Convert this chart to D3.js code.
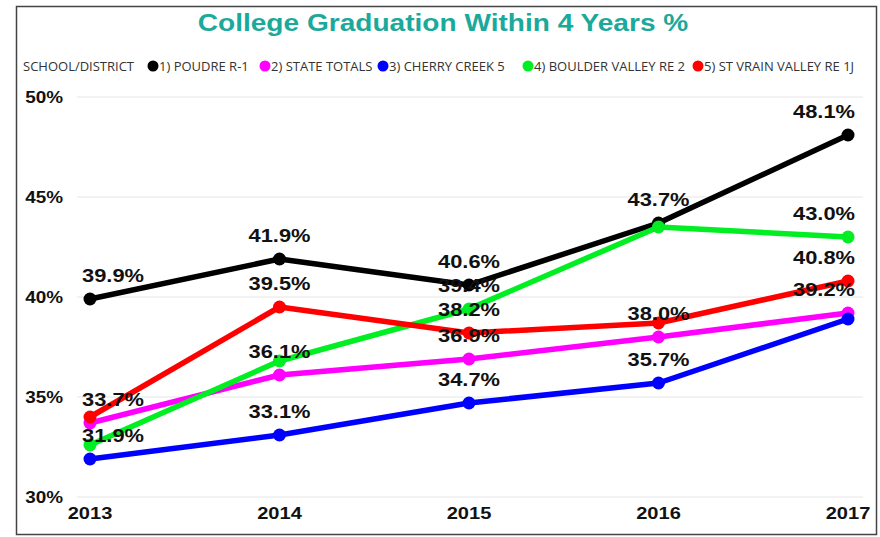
<!DOCTYPE html>
<html>
<head>
<meta charset="utf-8">
<script src="https://cdn.jsdelivr.net/npm/d3@7"></script>
<style>
  body { margin: 0; background: #fff; }
  text { font-family: "Liberation Sans", Arial, sans-serif; }
</style>
</head>
<body>
<script>
const width = 880;
const height = 537;

// data
const years = ['2013', '2014', '2015', '2016', '2017'];
const seriesNames = ['1) POUDRE R-1', '2) STATE TOTALS', '3) CHERRY CREEK 5', '4) BOULDER VALLEY RE 2', '5) ST VRAIN VALLEY RE 1J'];
const seriesColors = ['#000000', '#ff00ff', '#0000ff', '#00ee22', '#ff0000'];
const poudre = [39.9, 41.9, 40.6, 43.7, 48.1];
const stateTotals = [33.7, 36.1, 36.9, 38.0, 39.2];
const cherryCreek = [31.9, 33.1, 34.7, 35.7, 38.9];
const boulderValley = [32.6, 36.8, 39.4, 43.5, 43.0];
const stVrain = [34.0, 39.5, 38.2, 38.7, 40.8];
const yTicks = [30, 35, 40, 45, 50];

const allValues = [poudre, stateTotals, cherryCreek, boulderValley, stVrain];
const series = seriesNames.map((name, i) => ({
    name: name,
    color: seriesColors[i],
    values: years.map((y, j) => ({ year: y, value: allValues[i][j] }))
}));

const svg = d3.select('body').append('svg').attr('width', width).attr('height', height);

// frame
svg.append('rect')
    .attr('x', 16.5).attr('y', 6.5)
    .attr('width', 860).attr('height', 528)
    .attr('fill', '#fff')
    .attr('stroke', '#444')
    .attr('stroke-width', 1.5);

// title
svg.append('text')
    .attr('transform', 'translate(443,31) scale(1.17,1)')
    .attr('text-anchor', 'middle')
    .attr('font-size', 24)
    .attr('font-weight', 'bold')
    .attr('fill', '#1aa99b')
    .text('College Graduation Within 4 Years %');

// legend
const legend = svg.append('g');
legend.append('text')
    .attr('x', 23).attr('y', 71)
    .attr('font-size', 13)
    .attr('fill', '#333')
    .style('font-family', '"Open Sans", sans-serif')
    .text('SCHOOL/DISTRICT');
const legendX = [153, 265, 383, 528, 698];
series.forEach((s, i) => {
    legend.append('circle')
        .attr('cx', legendX[i]).attr('cy', 66)
        .attr('r', 5.5)
        .attr('fill', s.color);
    legend.append('text')
        .attr('x', legendX[i] + 6).attr('y', 71)
        .attr('font-size', 13)
        .attr('fill', '#333')
        .style('font-family', '"Open Sans", sans-serif')
        .text(s.name);
});

// scales
const x = d3.scalePoint().domain(years).range([90, 848]);
const y = d3.scaleLinear().domain([30, 50]).range([497, 97]);

// grid
svg.append('g')
    .selectAll('line')
    .data(yTicks)
    .join('line')
    .attr('x1', 77).attr('x2', 863)
    .attr('y1', d => y(d)).attr('y2', d => y(d))
    .attr('stroke', '#e6e6e6')
    .attr('stroke-width', 1);

// y axis labels
svg.append('g')
    .selectAll('text')
    .data(yTicks)
    .join('text')
    .attr('transform', d => `translate(63,${y(d) + 6}) scale(1.18,1)`)
    .attr('text-anchor', 'end')
    .attr('font-size', 16)
    .attr('font-weight', 'bold')
    .attr('fill', '#111')
    .text(d => d + '%');

// x axis labels
svg.append('g')
    .selectAll('text')
    .data(years)
    .join('text')
    .attr('transform', d => {
        let px = x(d);
        if (px + 22 > 870) px = 870 - 22;
        return `translate(${px},519) scale(1.18,1)`;
    })
    .attr('text-anchor', 'middle')
    .attr('font-size', 17)
    .attr('font-weight', 'bold')
    .attr('fill', '#111')
    .text(d => d);

// lines
const line = d3.line().x(d => x(d.year)).y(d => y(d.value));
const lines = svg.append('g');
series.forEach(s => {
    lines.append('path')
        .attr('d', line(s.values))
        .attr('fill', 'none')
        .attr('stroke', s.color)
        .attr('stroke-width', 5.5)
        .attr('stroke-linejoin', 'round');
    lines.selectAll(null)
        .data(s.values)
        .join('circle')
        .attr('cx', d => x(d.year))
        .attr('cy', d => y(d.value))
        .attr('r', 6.5)
        .attr('fill', s.color);
});

// data labels, skipping ones that collide with an earlier label at the same year
const labelG = svg.append('g');
years.forEach(yr => {
    const shown = [];
    series.forEach(s => {
        const v = s.values.find(d => d.year === yr).value;
        const cy = y(v) - 24;
        if (shown.some(o => Math.abs(o - cy) < 18)) return;
        shown.push(cy);
        const half = 31;
        let cx = x(yr);
        if (cx - half < 82) cx = 82 + half;
        if (cx + half > 855) cx = 855 - half;
        labelG.append('text')
            .attr('transform', `translate(${cx},${cy + 7}) scale(1.15,1)`)
            .attr('text-anchor', 'middle')
            .attr('font-size', 19)
            .attr('font-weight', 'bold')
            .attr('fill', '#111')
            .text(v.toFixed(1) + '%');
    });
});
</script>
</body>
</html>
